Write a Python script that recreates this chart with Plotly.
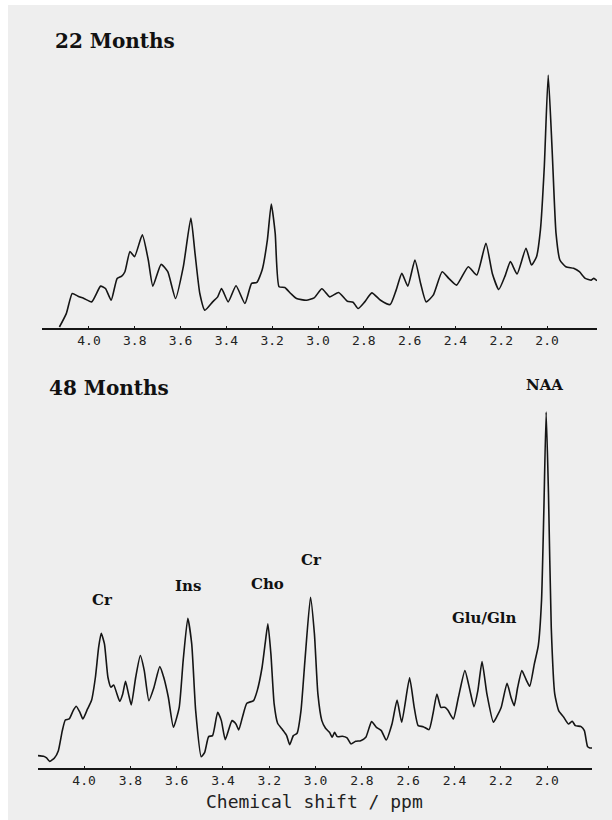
import plotly.graph_objects as go

# ---------------- data ----------------
# 22 months spectrum: chemical shift (ppm) and intensity (arbitrary units)
ppm_22 = [4.129, 4.099, 4.073, 4.048, 4.022, 3.988, 3.949, 3.928, 3.903, 3.877,
          3.857, 3.843, 3.821, 3.801, 3.767, 3.741, 3.721, 3.685, 3.656, 3.622,
          3.588, 3.555, 3.537, 3.516, 3.494, 3.460, 3.438, 3.421, 3.392, 3.358,
          3.319, 3.290, 3.267, 3.244, 3.221, 3.204, 3.187, 3.170, 3.145, 3.119,
          3.094, 3.051, 3.017, 2.983, 2.949, 2.910, 2.872, 2.847, 2.825, 2.796,
          2.765, 2.727, 2.685, 2.659, 2.634, 2.608, 2.577, 2.552, 2.528, 2.497,
          2.458, 2.429, 2.395, 2.344, 2.307, 2.267, 2.239, 2.211, 2.182, 2.160,
          2.131, 2.092, 2.068, 2.046, 2.029, 2.012, 1.995, 1.978, 1.961, 1.944,
          1.918, 1.884, 1.859, 1.833, 1.807, 1.796, 1.782]
int_22 = [3, 43, 103, 95, 88, 78, 125, 118, 83, 148,
          155, 168, 228, 213, 278, 203, 125, 190, 168, 88,
          183, 328, 223, 103, 53, 78, 93, 118, 78, 126,
          73, 133, 136, 173, 263, 370, 283, 123, 121, 103,
          88, 83, 90, 117, 93, 106, 80, 77, 58, 78,
          105, 83, 70, 113, 163, 125, 203, 133, 78, 98,
          168, 148, 128, 183, 158, 253, 163, 115, 158, 198,
          161, 238, 188, 213, 293, 483, 755, 533, 283, 203,
          183, 178, 168, 148, 143, 148, 141]

# 48 months spectrum
ppm_48 = [4.199, 4.175, 4.162, 4.148, 4.128, 4.111, 4.094, 4.081, 4.064, 4.047,
          4.034, 4.018, 4.005, 3.985, 3.968, 3.951, 3.937, 3.926, 3.912, 3.897,
          3.884, 3.872, 3.858, 3.846, 3.833, 3.821, 3.808, 3.796, 3.777, 3.757,
          3.740, 3.720, 3.698, 3.673, 3.656, 3.636, 3.614, 3.589, 3.572, 3.552,
          3.535, 3.518, 3.494, 3.479, 3.462, 3.445, 3.423, 3.407, 3.390, 3.361,
          3.344, 3.332, 3.316, 3.297, 3.268, 3.252, 3.231, 3.218, 3.206, 3.193,
          3.179, 3.164, 3.142, 3.125, 3.112, 3.096, 3.080, 3.063, 3.046, 3.022,
          3.005, 2.990, 2.973, 2.957, 2.940, 2.928, 2.918, 2.906, 2.884, 2.864,
          2.847, 2.827, 2.805, 2.783, 2.758, 2.737, 2.716, 2.695, 2.670, 2.648,
          2.628, 2.594, 2.574, 2.557, 2.535, 2.510, 2.493, 2.476, 2.459, 2.442,
          2.429, 2.405, 2.383, 2.355, 2.333, 2.316, 2.299, 2.281, 2.260, 2.232,
          2.215, 2.198, 2.173, 2.156, 2.142, 2.127, 2.109, 2.092, 2.075, 2.055,
          2.038, 2.024, 2.014, 2.004, 1.994, 1.982, 1.967, 1.950, 1.928, 1.908,
          1.891, 1.878, 1.853, 1.839, 1.825, 1.815, 1.802]
int_48 = [37, 35, 30, 20, 30, 52, 112, 144, 147, 172,
          185, 167, 147, 177, 202, 272, 362, 404, 372, 272,
          242, 249, 222, 200, 222, 260, 222, 189, 272, 337,
          292, 202, 242, 304, 272, 212, 122, 182, 322, 449,
          372, 172, 34, 47, 94, 97, 167, 142, 85, 142,
          132, 114, 152, 194, 202, 232, 302, 372, 432, 342,
          192, 134, 114, 97, 70, 97, 104, 172, 322, 512,
          402, 222, 142, 119, 107, 92, 107, 94, 95, 90,
          72, 80, 82, 92, 139, 122, 112, 84, 132, 204,
          137, 270, 182, 127, 124, 115, 162, 222, 182, 182,
          174, 147, 212, 292, 232, 184, 232, 319, 222, 137,
          157, 182, 254, 212, 187, 242, 292, 267, 245, 312,
          367, 502, 772, 1067, 822, 422, 222, 172, 152, 132,
          140, 127, 124, 112, 64, 60, 60]

tick_vals = [4.0, 3.8, 3.6, 3.4, 3.2, 3.0, 2.8, 2.6, 2.4, 2.2, 2.0]
tick_text = ["4.0", "3.8", "3.6", "3.4", "3.2", "3.0", "2.8", "2.6", "2.4", "2.2", "2.0"]

panel_titles = ["22 Months", "48 Months"]
peak_labels = ["Cr", "Ins", "Cho", "Cr", "Glu/Gln", "NAA"]
peak_label_ppm = [3.922, 3.551, 3.209, 3.019, 2.272, 2.013]
peak_label_int = [503, 546, 551, 623, 450, 1148]

x_title = "Chemical shift / ppm"

# ---------------- figure ----------------
W, H = 612, 820
LINE = "#151515"
BG = "#eeeeee"
serif = "DejaVu Serif"
mono = "DejaVu Sans Mono"

fig = go.Figure()
fig.add_trace(go.Scatter(x=ppm_22, y=int_22, mode="lines",
                         line=dict(color=LINE, width=1.6, shape="spline", smoothing=0.5),
                         xaxis="x", yaxis="y", showlegend=False, hoverinfo="skip"))
fig.add_trace(go.Scatter(x=ppm_48, y=int_48, mode="lines",
                         line=dict(color=LINE, width=1.6, shape="spline", smoothing=0.5),
                         xaxis="x2", yaxis="y2", showlegend=False, hoverinfo="skip"))


def py(p):
    return 1 - p / H


def px(p):
    return p / W


axis_common = dict(
    tickmode="array", tickvals=tick_vals, ticktext=tick_text,
    showline=True, linecolor=LINE, linewidth=1.5, mirror=False,
    ticks="inside", ticklen=2, tickwidth=1, tickcolor=LINE,
    showgrid=False, zeroline=False,
    tickfont=dict(family=mono, size=13, color="#222222"),
)

fig.update_layout(
    width=W, height=H,
    margin=dict(l=0, r=0, t=0, b=0),
    paper_bgcolor="white", plot_bgcolor="rgba(0,0,0,0)",
    xaxis=dict(domain=[px(42), px(597)], range=[4.205, 1.782], anchor="y", **axis_common),
    yaxis=dict(domain=[py(328), py(60)], range=[0, 800], visible=False, anchor="x"),
    xaxis2=dict(domain=[px(38), px(592)], range=[4.199, 1.806], anchor="y2", **axis_common),
    yaxis2=dict(domain=[py(768), py(380)], range=[0, 1163], visible=False, anchor="x2"),
    shapes=[dict(type="rect", xref="paper", yref="paper", x0=px(8), x1=1, y0=0, y1=py(5),
                 fillcolor=BG, line=dict(width=0), layer="below")],
)

# axis title of the lower panel
fig.add_annotation(text=x_title, xref="paper", yref="paper",
                   x=px(315), y=py(801), xanchor="center", yanchor="middle", showarrow=False,
                   font=dict(family=mono, size=18, color="#222222"))

# panel titles
fig.add_annotation(text="<b>%s</b>" % panel_titles[0], xref="paper", yref="paper",
                   x=px(53), y=py(41), xanchor="left", yanchor="middle", showarrow=False,
                   font=dict(family=serif, size=20, color="#111111"))
fig.add_annotation(text="<b>%s</b>" % panel_titles[1], xref="paper", yref="paper",
                   x=px(47), y=py(388), xanchor="left", yanchor="middle", showarrow=False,
                   font=dict(family=serif, size=20, color="#111111"))

# peak labels on the 48-month spectrum
for lab, xv, yv in zip(peak_labels, peak_label_ppm, peak_label_int):
    fig.add_annotation(text="<b>%s</b>" % lab, xref="x2", yref="y2", x=xv, y=yv,
                       xanchor="center", yanchor="middle", showarrow=False,
                       font=dict(family=serif, size=15, color="#111111"))

fig.write_html("out.html")
